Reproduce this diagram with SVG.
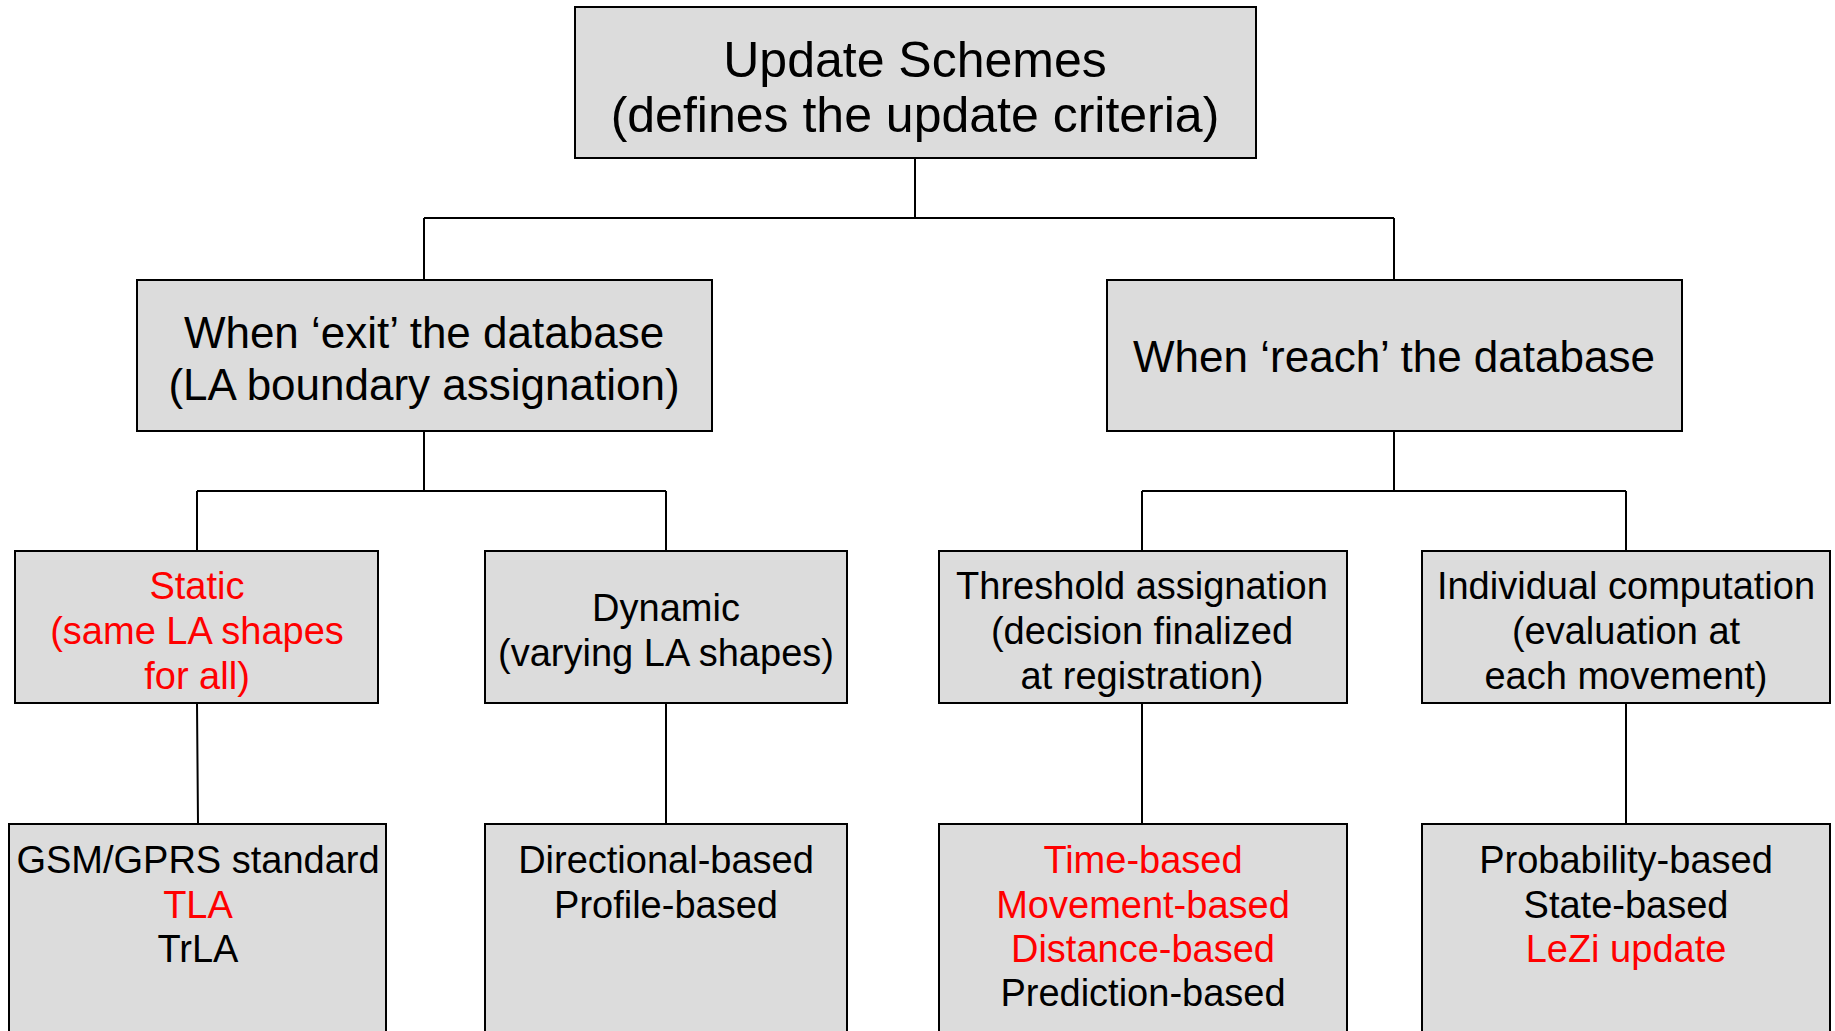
<svg xmlns="http://www.w3.org/2000/svg" width="1835" height="1031" viewBox="0 0 1835 1031">
  <style>
    .box { fill: #dcdcdc; stroke: #000; stroke-width: 2; }
    .wire { fill: none; stroke: #000; stroke-width: 2; }
    text { font-family: "Liberation Sans", Arial, sans-serif; text-anchor: middle; fill: #000; }
    .t0 { font-size: 50px; }
    .t1 { font-size: 44px; }
    .t2 { font-size: 38px; }
    .red { fill: #ff0000; }
  </style>
  <rect width="1835" height="1031" fill="#fff"/>

  <g id="connectors">
    <path class="wire" d="M915,158 V218 M424,218 H1394 M424,218 V280 M1394,218 V280"/>
    <path class="wire" d="M424,431 V491 M197,491 H666 M197,491 V551 M666,491 V551"/>
    <path class="wire" d="M1394,431 V491 M1142,491 H1626 M1142,491 V551 M1626,491 V551"/>
    <path class="wire" d="M197,703 L198,824 M666,703 V824 M1142,703 V824 M1626,703 V824"/>
  </g>

  <g id="update-schemes">
    <rect class="box" x="575" y="7" width="681" height="151"/>
    <text class="t0" x="915" y="77">Update Schemes</text>
    <text class="t0" x="915" y="132">(defines the update criteria)</text>
  </g>

  <g id="exit-database">
    <rect class="box" x="137" y="280" width="575" height="151"/>
    <text class="t1" x="424" y="348">When ‘exit’ the database</text>
    <text class="t1" x="424" y="400">(LA boundary assignation)</text>
  </g>

  <g id="reach-database">
    <rect class="box" x="1107" y="280" width="575" height="151"/>
    <text class="t1" x="1394" y="372">When ‘reach’ the database</text>
  </g>

  <g id="static">
    <rect class="box" x="15" y="551" width="363" height="152"/>
    <text class="t2 red" x="197" y="599">Static</text>
    <text class="t2 red" x="197" y="644">(same LA shapes</text>
    <text class="t2 red" x="197" y="689">for all)</text>
  </g>

  <g id="dynamic">
    <rect class="box" x="485" y="551" width="362" height="152"/>
    <text class="t2" x="666" y="621">Dynamic</text>
    <text class="t2" x="666" y="666">(varying LA shapes)</text>
  </g>

  <g id="threshold">
    <rect class="box" x="939" y="551" width="408" height="152"/>
    <text class="t2" x="1142" y="599">Threshold assignation</text>
    <text class="t2" x="1142" y="644">(decision finalized</text>
    <text class="t2" x="1142" y="689">at registration)</text>
  </g>

  <g id="individual">
    <rect class="box" x="1422" y="551" width="408" height="152"/>
    <text class="t2" x="1626" y="599">Individual computation</text>
    <text class="t2" x="1626" y="644">(evaluation at</text>
    <text class="t2" x="1626" y="689">each movement)</text>
  </g>

  <g id="static-schemes">
    <rect class="box" x="9" y="824" width="377" height="220"/>
    <text class="t2" x="198" y="873">GSM/GPRS standard</text>
    <text class="t2 red" x="198" y="918">TLA</text>
    <text class="t2" x="198" y="962">TrLA</text>
  </g>

  <g id="dynamic-schemes">
    <rect class="box" x="485" y="824" width="362" height="220"/>
    <text class="t2" x="666" y="873">Directional-based</text>
    <text class="t2" x="666" y="918">Profile-based</text>
  </g>

  <g id="threshold-schemes">
    <rect class="box" x="939" y="824" width="408" height="220"/>
    <text class="t2 red" x="1143" y="873">Time-based</text>
    <text class="t2 red" x="1143" y="918">Movement-based</text>
    <text class="t2 red" x="1143" y="962">Distance-based</text>
    <text class="t2" x="1143" y="1006">Prediction-based</text>
  </g>

  <g id="individual-schemes">
    <rect class="box" x="1422" y="824" width="408" height="220"/>
    <text class="t2" x="1626" y="873">Probability-based</text>
    <text class="t2" x="1626" y="918">State-based</text>
    <text class="t2 red" x="1626" y="962">LeZi update</text>
  </g>
</svg>
